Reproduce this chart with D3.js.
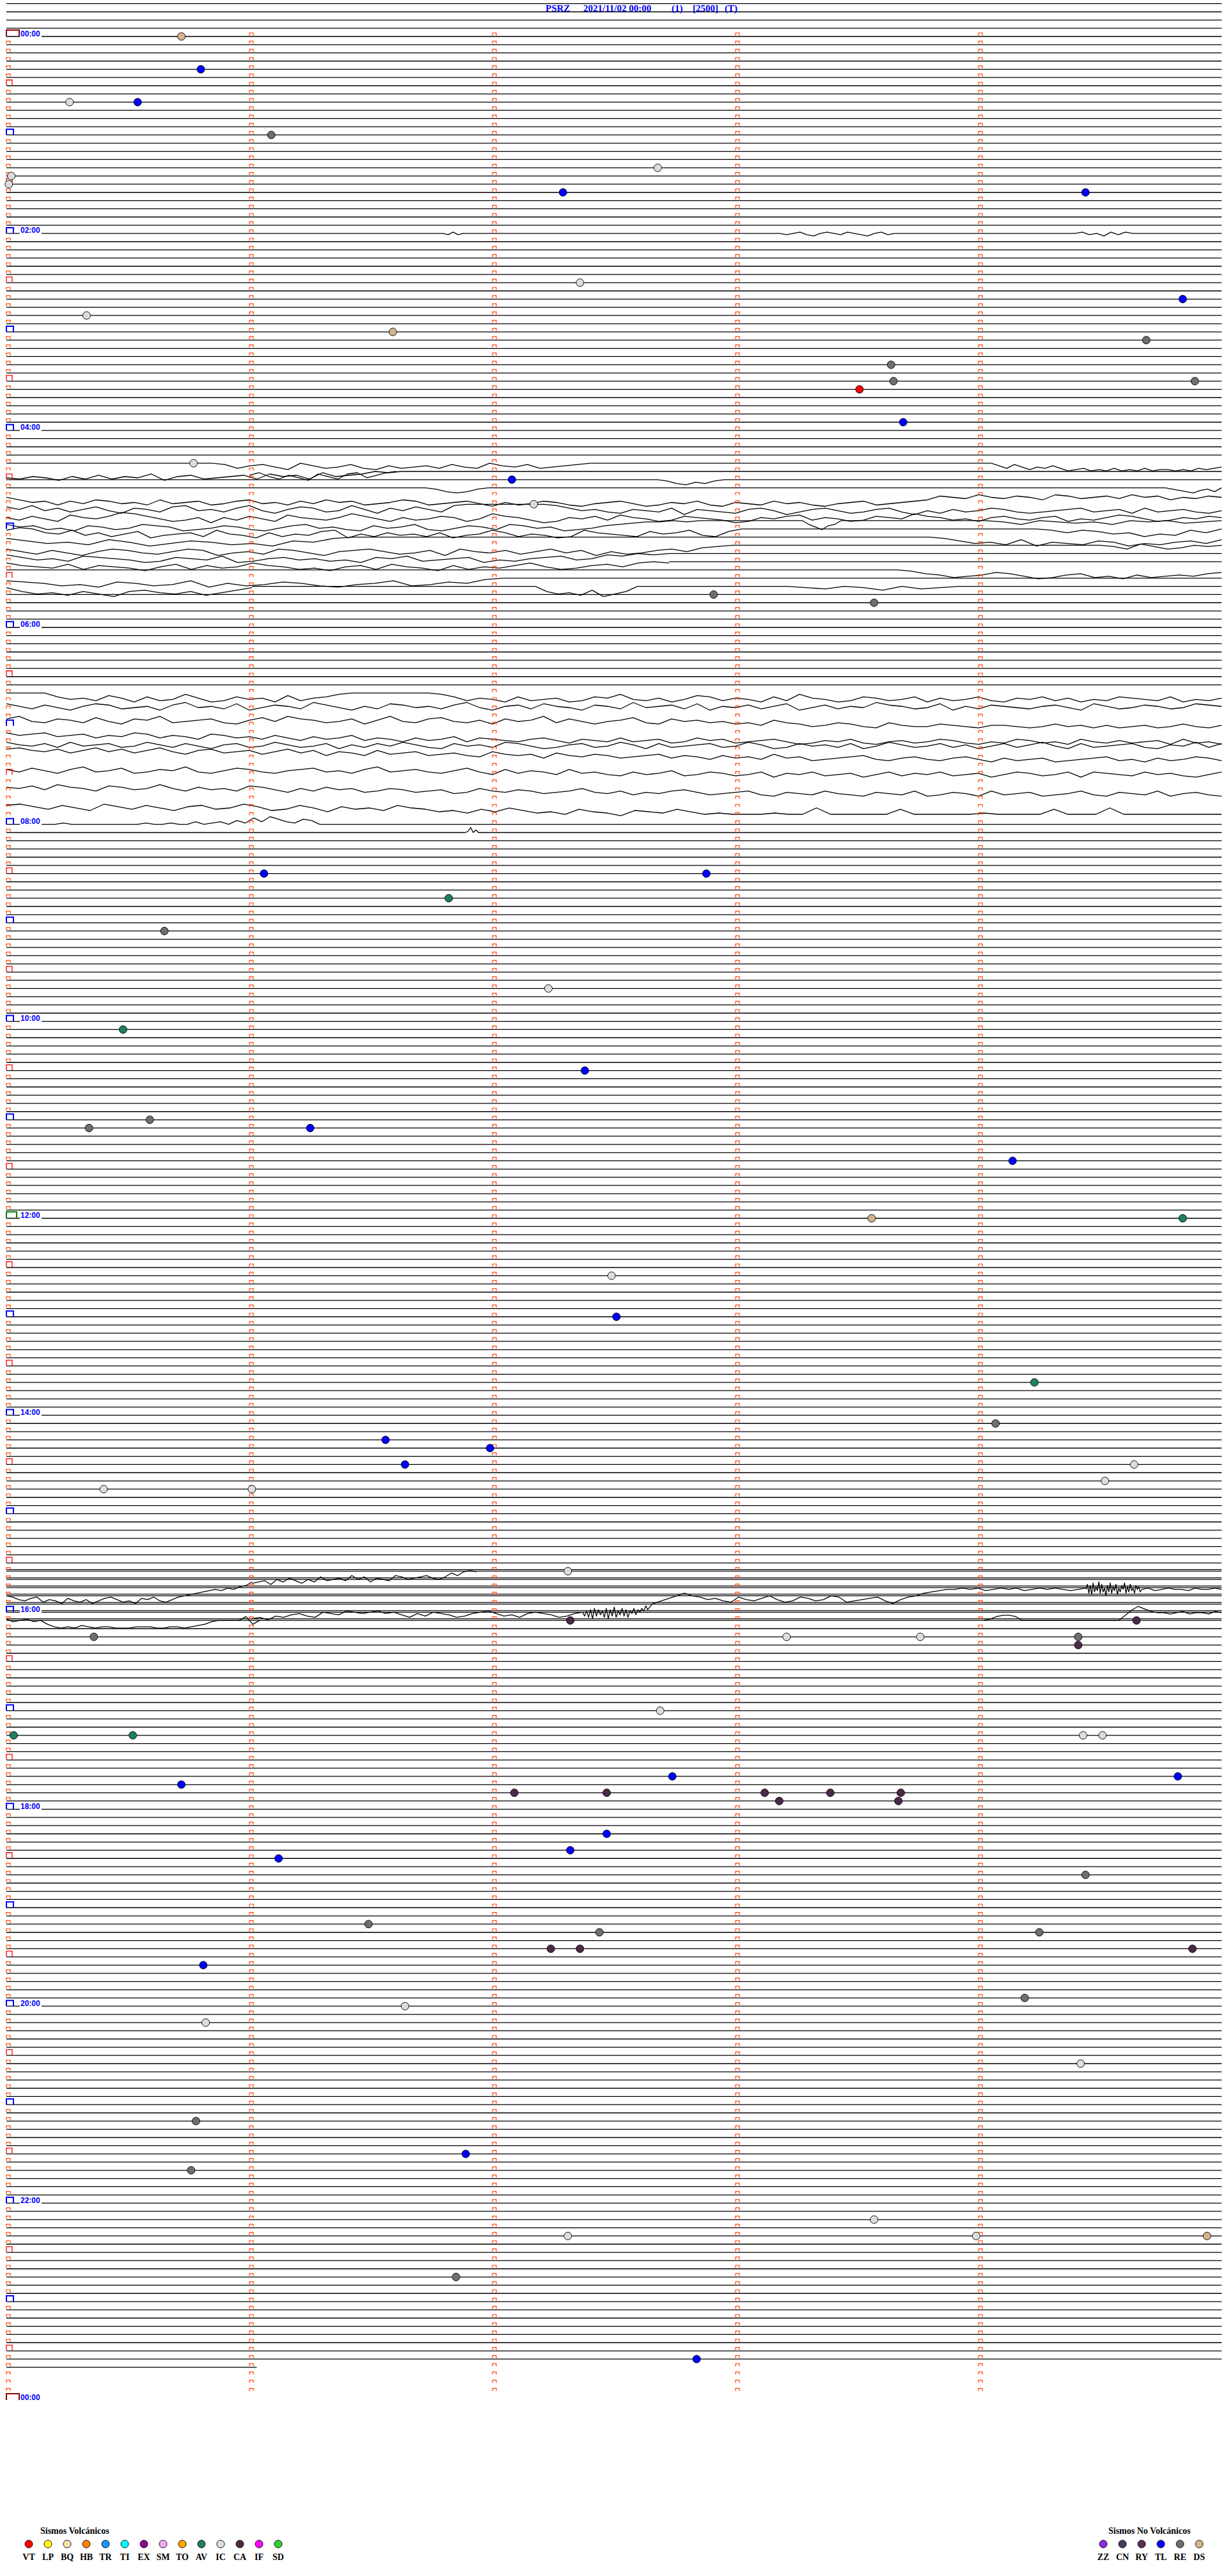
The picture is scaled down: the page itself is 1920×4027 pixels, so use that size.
<!DOCTYPE html>
<html>
<head>
<meta charset="utf-8">
<script src="https://cdn.jsdelivr.net/npm/d3@7"></script>
<style>
  body { margin: 0; background: #fff; }
  svg { display: block; }
</style>
</head>
<body>
<svg id="chart"></svg>
<script>
// Helicorder page for one station-day: 5 minutes per row, 288 rows.
const titleParts = ['PSRZ', '2021/11/02 00:00', '(1)', '[2500]', '(T)'];

// Minutes after 00:00 of the last plotted sample
const lastSampleMinute = 1421.03;

// Detected events: minute of the day and class code
const eventMinutes = [
  0.72, 20.80, 40.26, 40.54, 61.09, 82.68, 85.02, 90.01, 97.29, 99.44,
  152.36, 164.84, 170.33, 181.59, 189.69, 203.64, 213.65, 214.89, 218.51, 238.69,
  260.77, 272.08, 287.17, 342.91, 348.57, 511.06, 512.88, 526.82, 545.65, 582.23,
  605.48, 632.38, 660.59, 665.34, 666.25, 689.14, 723.56, 724.84, 757.49, 782.51,
  824.23, 849.07, 856.56, 861.99, 871.64, 874.64, 884.52, 885.40, 886.01, 937.31,
  967.32, 969.65, 975.36, 978.21, 978.76, 979.41, 984.41, 1022.69, 1035.03, 1035.52,
  1039.43, 1039.51, 1062.74, 1064.82, 1065.72, 1072.09, 1072.47, 1073.12, 1073.39, 1073.68,
  1078.18, 1078.67, 1097.47, 1107.32, 1111.12, 1124.44, 1151.49, 1157.44, 1159.25, 1167.24,
  1167.36, 1169.88, 1175.81, 1199.19, 1201.64, 1210.82, 1239.42, 1270.78, 1291.89, 1300.76,
  1333.57, 1342.31, 1343.99, 1344.94, 1366.85, 1417.84,
];
const eventTypes = [
  'DS', 'TL', 'IC', 'TL', 'RE', 'IC', 'IC', 'IC', 'TL', 'TL',
  'IC', 'TL', 'IC', 'DS', 'RE', 'RE', 'RE', 'RE', 'VT', 'TL',
  'IC', 'TL', 'IC', 'RE', 'RE', 'TL', 'TL', 'AV', 'RE', 'IC',
  'AV', 'TL', 'RE', 'RE', 'TL', 'TL', 'DS', 'AV', 'IC', 'TL',
  'AV', 'RE', 'TL', 'TL', 'TL', 'IC', 'IC', 'IC', 'IC', 'IC',
  'CA', 'CA', 'RE', 'IC', 'IC', 'RE', 'CA', 'IC', 'AV', 'AV',
  'IC', 'IC', 'TL', 'TL', 'TL', 'CA', 'CA', 'CA', 'CA', 'CA',
  'CA', 'CA', 'TL', 'TL', 'TL', 'RE', 'RE', 'RE', 'RE', 'CA',
  'CA', 'CA', 'TL', 'RE', 'IC', 'IC', 'IC', 'RE', 'TL', 'RE',
  'IC', 'IC', 'IC', 'DS', 'RE', 'TL',
];

// Legend classes
const volcanicCodes = ['VT', 'LP', 'BQ', 'HB', 'TR', 'TI', 'EX', 'SM', 'TO', 'AV', 'IC', 'CA', 'IF', 'SD'];
const volcanicColors = ['#ff0000', '#ffff00', '#f3e3a6', '#ff8000', '#1e90ff', '#00ffff', '#8b0a8b',
  '#eeaaee', '#ffa500', '#1f7f5f', '#dcdcdc', '#4a2a48', '#ff00ff', '#33cc33'];
const nonVolcanicCodes = ['ZZ', 'CN', 'RY', 'TL', 'RE', 'DS'];
const nonVolcanicColors = ['#8a2be2', '#4a3a5c', '#583058', '#0000ff', '#6e6e6e', '#d2b48c'];

// Wiggly stretches of the trace: row, start/end minute inside the row,
// and the shape, one letter per sample ('m' = on the row line, 2 px per letter)
const traceRows = [
  24, 24, 24,
  52, 52, 53, 53, 54, 55, 55, 56, 57, 58, 59, 59, 59, 60, 60, 61, 61, 62, 62, 63, 64, 65, 66, 67, 67, 67,
  80, 81, 83, 85, 86, 87, 89, 91, 94, 96, 97,
  190, 188, 192, 192, 190, 190, 190, 193, 193,
];
const traceFrom = [
  1.797, 3.182, 4.397,
  0.847, 4.021, 0, 1.0, 2.679, 1.724, 4.768, 0, 0, 0, 0, 3.276, 4.026, 0, 4.237, 0, 3.795, 0, 4.5, 0, 0, 3.666, 0, 0, 2.176, 3.211,
  0, 0, 0, 0, 0, 0, 0, 0, 0, 0.132, 1.889,
  0, 1.011, 1.011, 2.371, 2.663, 4.442, 4.671, 0, 4.021,
];
const traceTo = [
  1.879, 3.655, 4.634,
  2.403, 5, 1.626, 1.605, 2.953, 1.982, 5, 5, 5, 5, 2.855, 3.434, 5, 3.026, 5, 1.432, 5, 2.987, 5, 2.726, 2.726, 5, 2.047, 1.011, 2.597, 3.921,
  5, 5, 5, 5, 5, 5, 5, 5, 5, 1.289, 1.942,
  1.011, 1.934, 2.371, 2.663, 4.442, 4.671, 5, 1.042, 5,
];
const traceShapes = [
  'mnlnm',
  'mnmlnomlmnlmnomlnm',
  'mlnmolnlm',
  'mnqonprmoqpnqroqpoqnpqmopnqponm',
  'mmoqnprpqoqsrqsrsqsrsqsrrsrsqrqp',
  'rsqrtqspsqrotqpsrqpsoqpsnqpomnm',
  'pnqsprtoqsonrpnm',
  'mnpqopnm',
  'mnpqpnm',
  'mnopqonpm',
  'nprqtqspqsrtpsrqtsqpsrtqsprqtsrpqtsrqsurtsqrtusrqsutrsqturstqsrtusrqtsrqpmnolnomnplmonmolnmpnomn',
  'oqnrpsqortpqsonrqspnrtqopsrnqtproqsnmmmmmmmnprqstqrspuqrstqprusqprtsqpsurtqsrpqstsrqpsrqtpsrqstr',
  'qsprtoqrpmnprtsquqsprtoqrsqnprtqsrpqtrnpqsutqrpsoqrtspqrsutqrposqrtspqrnpqsrtqprsqptrsqoprtsqrpq',
  'prqtsuqrtspqrutsqrtusqpsrtuqsrptusqrtpqsrutsqponnmnm',
  'mprtqpm',
  'mnpmnonpmnmonm',
  'nlmpqnrpsqotrqpsnqrtpsqrontqsprqsptrqnpsqrtsnpqrsoqpnrsom',
  'mnpnoqpsqrnpm',
  'nprqsoqtrpqsrtpqnm',
  'mnprqsotqrspqtrsqpro',
  'prtqsurpqstrpqusrtpqsurqprtsquprsqtrpsqurtsqpronm',
  'mnplnpomnm',
  'nprqsopqrtspqrotsqprqsrtpqosrqptrsqporqnomnm',
  'npqrospqrtqosprqnpqsrtqpsoqrtpsqrpnqsrpoqnmn',
  'mnpqsrqoprtsqpsrtqsrqrpo',
  'opqsrtpqsrotqsrpqstrqosrpqnm',
  'nqsrtqsuqprsqtrpn',
  'mqsrtpusqm',
  'mnomnpmonm',
  'mmmmprqsoqtpsrnqtsprqtosqpnmmmmmmmnpsqrtpsrqtspqnrsqtropsqrtpsnqrtspqsrptqsrpstqrpsqtrspqrsptrsq',
  'oqsprtqopsrqtpnrqsotrpqsnprtqsoprqspnrtqpsoqrtpqsnrqpsotqrpsqotrpsqrnpqsrotqspqrsqprtoqsrpqsropq',
  'nlpqnoqmprnolqponqromplnoqpnrolpqnmpqornpolqnprpomqrnpoqprqsoqrtsqrtuqsttrstusstutrtsusutsutrtus',
  'lnmlonmpnolmpnoqmnpoqnproqpnrpqsprqospqrsqprtqrspsrqtsprqtsrqsutrsqtusrtsqrtustqrtsuqstrtsruqtsu',
  'mopnqmponqpmoqnpronqpmoqpnroqnpmoqrnpoqmnprqonqpmornqponqpmorqnpoqnrpmoqpnqorpnqomprnqponqropmqn',
  'lkmnlomknlomknpmlonmpnlomqnoqmponqpoqrnpqpsoqrpqsrqpsqrtqsrtpsrutsrqtusrtusrtvsutsvutsrutvsutrsu',
  'oqnpromqpnrqopmqrpnoqrponqpromqpoqrpnqsorpqsorqstqsrptsqrtsqursqtsrusqtrsqtsrusqrtsquqrstqsrtusq',
  'pqornpqsoprqnqsprqsoprtqsprqtsqrtsrutqstrsutsqtusvtusrtvutsvwtuvsuvwtuvswvtuwsvutwvusvwtuvswutvw',
  'kjlnkmojlnkmolknmjlonkmplnmokmnpoqnpmoqprnpqsopqnprqrrrqrrmrrrrrnrrrrrqrrrrnrrrmrrrrrrrr',
  'mmmlmmmmmmmmmlmmlmmkmlkmjlhkgiklijm',
  'mlimkm',
  'mnpqonrpqsoqrpsqonprqsopnqrpnmlkjihighfeb',
  'ponqmolnpmoknmlnjmkolmnjkmlkjlmkhjgfg',
  'rqspqonpqmnolmnmlnmoqnpmnoqpnmlnpoqnmnoqpnm',
  'mplqkrjpkolqjrkpiqlojpkqlnjokmjlhkigf',
  'sqomkmnpoqrnpqomprqnoqpmnrqponqspnmkjihhghgihghgihghghihg',
  'hdkelcjfibkdjgmejckfidlgjehckfjdigkehfjh',
  'hgihghhighhgh',
  'lnmlnmprsrsqrsrrsssrrrssrrsrqpnmmmmjpm',
  'mljiijmmmmmmmmmmmmmmmmiebdfgghgfhgghfg',
];

// Rows whose plain line is lost under the trace
const hiddenRows = [82, 84, 88, 90, 92, 93, 95];
// Rows drawn as a doubled line, the trace riding on top
const doubledRows = [187, 188, 189, 190, 191, 192, 193];

const width = 1920;
const height = 4027;
const rowsPerDay = 288;
const minutesPerRow = 5;
const firstRow = -4;
const pxPerLetter = 2;

const svg = d3.select('#chart')
  .attr('width', width)
  .attr('height', height)
  .attr('viewBox', `0 0 ${width} ${height}`);

svg.append('rect').attr('width', width).attr('height', height).attr('fill', '#fff');

// minute inside a row -> x, row index -> y of its line
const x = d3.scaleLinear().domain([0, minutesPerRow]).range([10, 1910]);
const y = d3.scaleLinear().domain([0, rowsPerDay]).range([57, 57 + rowsPerDay * 12.83]);

const letterOffset = (c) => (c.charCodeAt(0) - 109) * pxPerLetter;

const segs = traceRows.map((row, i) => ({
  row, from: traceFrom[i], to: traceTo[i], shape: traceShapes[i],
}));

// Row lines, cut where a trace stretch takes over
const lineLayer = svg.append('g')
  .attr('stroke', '#000')
  .attr('stroke-width', 1.3)
  .attr('fill', 'none');

const lastRow = Math.floor(lastSampleMinute / minutesPerRow);
d3.range(firstRow, lastRow + 1).forEach((row) => {
  if (hiddenRows.includes(row)) return;
  const end = Math.min(minutesPerRow, lastSampleMinute - row * minutesPerRow);
  let pieces = [[0, end]];
  if (doubledRows.includes(row)) {
    lineLayer.append('line')
      .attr('x1', x(0)).attr('x2', x(end))
      .attr('y1', y(row) - 2.5).attr('y2', y(row) - 2.5);
  } else {
    const own = segs.filter((s) => s.row === row).sort((a, b) => a.from - b.from);
    pieces = [];
    let cursor = 0;
    own.forEach((s) => {
      if (s.from > cursor) pieces.push([cursor, s.from]);
      cursor = Math.max(cursor, s.to);
    });
    if (cursor < end) pieces.push([cursor, end]);
  }
  pieces.forEach(([a, b]) => {
    lineLayer.append('line')
      .attr('x1', x(a)).attr('x2', x(b))
      .attr('y1', y(row)).attr('y2', y(row));
  });
});

// Trace stretches
const traceLine = d3.line().x((d) => d[0]).y((d) => d[1]);
svg.append('g')
  .attr('stroke', '#000')
  .attr('stroke-width', 1.3)
  .attr('fill', 'none')
  .attr('stroke-linejoin', 'round')
  .selectAll('path')
  .data(segs)
  .join('path')
  .attr('d', (s) => {
    const n = s.shape.length;
    const pts = s.shape.split('').map((c, k) => [
      x(s.from + ((s.to - s.from) * k) / (n - 1)),
      y(s.row) + letterOffset(c),
    ]);
    return traceLine(pts);
  });

// Minute ticks and hour / half-hour boxes
const markLayer = svg.append('g').attr('fill', 'none');
const boxPath = (x0, yl, w, h) => `M${x0},${yl}V${yl - h}H${x0 + w}V${yl}`;

d3.range(0, rowsPerDay).forEach((row) => {
  const yl = y(row);
  d3.range(0, minutesPerRow).forEach((m) => {
    if (m === 0 && row % 12 === 0) {
      let color = '#0000ff';
      let w = 11;
      let h = 9;
      if (row === 0) { color = '#8b0000'; w = 20; h = 10; }
      if (row === 144) { color = '#008000'; w = 16; h = 10; }
      markLayer.append('path')
        .attr('d', boxPath(x(0), yl, w, h))
        .attr('stroke', color)
        .attr('stroke-width', 2);
    } else if (m === 0 && row % 12 === 6) {
      markLayer.append('path')
        .attr('d', boxPath(x(0), yl - 0.5, 9, 8.5))
        .attr('stroke', '#ff0000')
        .attr('stroke-width', 1.3);
    } else {
      markLayer.append('path')
        .attr('d', boxPath(x(m), yl - 1.5, 6, 4))
        .attr('stroke', '#ff4500')
        .attr('stroke-width', 1.2);
    }
  });
});

// Closing 00:00 box after the last row
markLayer.append('path')
  .attr('d', boxPath(x(0), y(rowsPerDay), 20, 10))
  .attr('stroke', '#8b0000')
  .attr('stroke-width', 2);

// Time labels every two hours
const labelRows = d3.range(0, rowsPerDay + 1, 24);
const labelLayer = svg.append('g');
labelRows.forEach((row) => {
  const hh = String((row / 12) % 24).padStart(2, '0');
  labelLayer.append('rect')
    .attr('x', 31).attr('y', y(row) - 10)
    .attr('width', 34).attr('height', 11.5)
    .attr('fill', '#fff');
  labelLayer.append('text')
    .attr('x', 32)
    .attr('y', y(row) - 0.5)
    .attr('fill', '#0000ff')
    .style('font', 'bold 12px "Liberation Sans", Arial, sans-serif')
    .text(`${hh}:00`);
});

// Event dots
const colorOf = {};
volcanicCodes.forEach((c, i) => { colorOf[c] = volcanicColors[i]; });
nonVolcanicCodes.forEach((c, i) => { colorOf[c] = nonVolcanicColors[i]; });

svg.append('g')
  .selectAll('circle')
  .data(eventMinutes.map((t, i) => ({ t, type: eventTypes[i] })))
  .join('circle')
  .attr('cx', (d) => x(d.t % minutesPerRow))
  .attr('cy', (d) => y(Math.floor(d.t / minutesPerRow)))
  .attr('r', 6)
  .attr('fill', (d) => colorOf[d.type])
  .attr('stroke', '#000')
  .attr('stroke-width', 0.9);

// Title
const titleX = [853, 912, 1050, 1083, 1133];
svg.append('g')
  .selectAll('text')
  .data(titleParts)
  .join('text')
  .attr('x', (d, i) => titleX[i])
  .attr('y', 18)
  .attr('fill', '#0000ff')
  .style('font', 'bold 15px "Liberation Serif", "Times New Roman", serif')
  .text((d) => d);

// Legends
const legendFont = 'bold 14px "Liberation Serif", "Times New Roman", serif';
function drawLegend(title, titleLeft, codes, colors, firstX) {
  const lx = d3.scaleLinear().domain([0, 1]).range([firstX, firstX + 30]);
  const g = svg.append('g');
  g.append('text')
    .attr('x', titleLeft).attr('y', 3961)
    .style('font', legendFont)
    .text(title);
  g.selectAll('circle')
    .data(codes)
    .join('circle')
    .attr('cx', (d, i) => lx(i))
    .attr('cy', 3977)
    .attr('r', 6)
    .attr('fill', (d, i) => colors[i])
    .attr('stroke', '#000')
    .attr('stroke-width', 0.9);
  g.selectAll('text.code')
    .data(codes)
    .join('text')
    .attr('class', 'code')
    .attr('x', (d, i) => lx(i))
    .attr('y', 4002)
    .attr('text-anchor', 'middle')
    .style('font', legendFont)
    .text((d) => d);
}

drawLegend('Sismos Volcánicos', 63, volcanicCodes, volcanicColors, 45);
drawLegend('Sismos No Volcánicos', 1733, nonVolcanicCodes, nonVolcanicColors, 1725);
</script>
</body>
</html>
